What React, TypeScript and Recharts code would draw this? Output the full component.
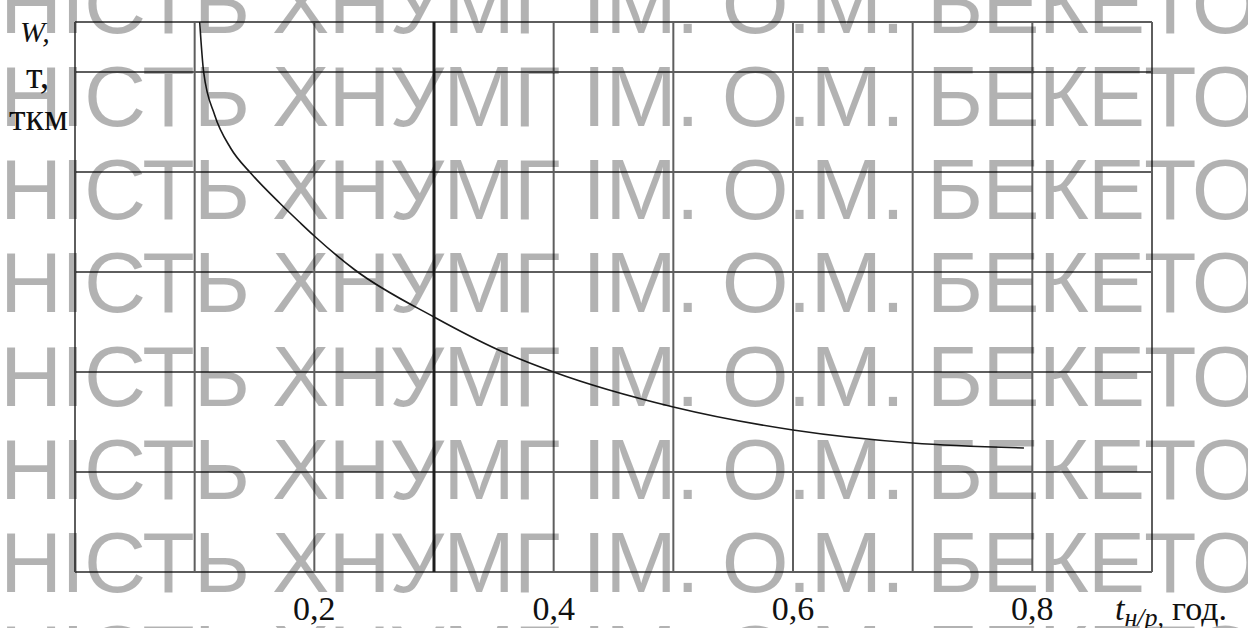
import React from 'react';
import { CartesianGrid, Line, LineChart, ReferenceLine, XAxis, YAxis } from 'recharts';

// curve W(t)
const tValues = [0.1042, 0.1075, 0.1167, 0.13, 0.1475, 0.171, 0.1875, 0.2, 0.234, 0.3, 0.354, 0.4, 0.5, 0.6, 0.7, 0.793];
const wValues = [5.5, 5.0, 4.57, 4.24, 3.98, 3.69, 3.5, 3.36, 3.02, 2.55, 2.22, 2.0, 1.65, 1.42, 1.29, 1.24];

const gridT = [0, 0.1, 0.2, 0.3, 0.4, 0.5, 0.6, 0.7, 0.8, 0.9];
const gridW = [0, 1, 2, 3, 4, 5, 5.5];
const labelT = [0.2, 0.4, 0.6, 0.8];
const tickLabels = ['0,2', '0,4', '0,6', '0,8'];
const boldLineT = 0.3;

const watermark = 'НІСТЬ ХНУМГ ІМ. О.М. БЕКЕТО';
const watermarkRows = [33, 126, 219, 312, 406, 499, 592, 685];

const data = tValues.map((t, i) => ({ t, w: wValues[i] }));

const serif = '"Liberation Serif", "Times New Roman", serif';
const gridColor = '#5e5e5e';

const XTick = (props: any) => {
  const { x, y, payload } = props;
  const idx = labelT.findIndex((v) => Math.abs(v - payload.value) < 1e-6);
  if (idx < 0) return null;
  return (
    <text x={x} y={y + 40} textAnchor="middle" fontFamily={serif} fontSize={34} fill="#111">
      {tickLabels[idx]}
    </text>
  );
};

export default function App() {
  return (
    <div style={{ position: 'absolute', left: 0, top: 0, width: 1248, height: 628, background: '#fff' }}>
      <LineChart
        width={1248}
        height={628}
        data={data}
        margin={{ top: 22, right: 96, bottom: 0, left: 75 }}
      >
        <CartesianGrid horizontal={false} stroke={gridColor} strokeWidth={2} />
        <XAxis
          dataKey="t"
          type="number"
          domain={[0, 0.9]}
          ticks={gridT}
          height={56}
          axisLine={false}
          tickLine={false}
          tick={<XTick />}
          interval={0}
        />
        <YAxis
          type="number"
          domain={[0, 5.5]}
          ticks={gridW}
          width={0}
          axisLine={false}
          tickLine={false}
          tick={false}
        />
        {gridW.map((w) => (
          <ReferenceLine key={w} y={w} stroke={gridColor} strokeWidth={2} />
        ))}
        <ReferenceLine x={boldLineT} stroke="#1e1e1e" strokeWidth={3} />
        <Line
          type="monotone"
          dataKey="w"
          stroke="#1a1a1a"
          strokeWidth={1.6}
          dot={false}
          isAnimationActive={false}
        />
      </LineChart>

      <svg
        width={1248}
        height={628}
        style={{ position: 'absolute', left: 0, top: 0, pointerEvents: 'none' }}
      >
        <text x={20} y={42} fontFamily={serif} fontStyle="italic" fontSize={30} fill="#111">W,</text>
        <text x={26} y={88} fontFamily={serif} fontSize={38} fill="#111">т,</text>
        <text x={9} y={130} fontFamily={serif} fontSize={38} fill="#111">ткм</text>
        <text x={1115} y={620} fontFamily={serif} fontSize={34} fill="#111">
          <tspan fontStyle="italic">t</tspan>
          <tspan fontStyle="italic" fontSize={26} dy={6}>н/р,</tspan>
          <tspan dy={-6} dx={8}>год.</tspan>
        </text>
        {watermarkRows.map((y) => (
          <text
            key={y}
            x={0}
            y={y}
            fontFamily='"Liberation Sans", Arial, sans-serif'
            fontSize={86}
            letterSpacing={-1}
            fill="rgba(0,0,0,0.3)"
          >
            {watermark}
          </text>
        ))}
      </svg>
    </div>
  );
}
